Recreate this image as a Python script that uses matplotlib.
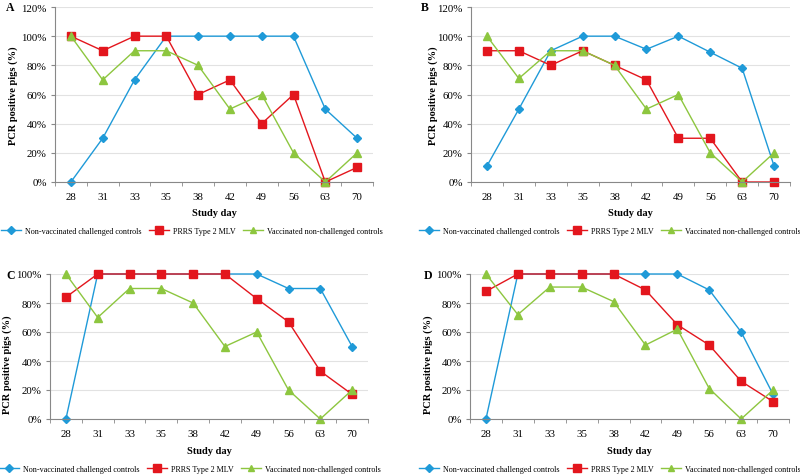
import numpy as np
import matplotlib
matplotlib.use('Agg')
import matplotlib.pyplot as plt
from matplotlib.ticker import PercentFormatter, FixedLocator

plt.rcParams['font.family'] = ['Liberation Serif', 'DejaVu Serif']

days = [28, 31, 33, 35, 38, 42, 49, 56, 63, 70]
names = ['Non-vaccinated challenged controls', 'PRRS Type 2 MLV',
         'Vaccinated non-challenged controls']

# panel A
a_nonvacc = [0, 30, 70, 100, 100, 100, 100, 100, 50, 30]
a_mlv = [100, 90, 100, 100, 60, 70, 40, 60, 0, 10]
a_vacc = [100, 70, 90, 90, 80, 50, 60, 20, 0, 20]

# panel B
b_nonvacc = [11, 50, 90, 100, 100, 91, 100, 89, 78, 11]
b_mlv = [90, 90, 80, 90, 80, 70, 30, 30, 0, 0]
b_vacc = [100, 71, 90, 90, 80, 50, 60, 20, 0, 20]

# panel C
c_nonvacc = [0, 100, 100, 100, 100, 100, 100, 90, 90, 50]
c_mlv = [84, 100, 100, 100, 100, 100, 83, 67, 33, 17]
c_vacc = [100, 70, 90, 90, 80, 50, 60, 20, 0, 20]

# panel D
d_nonvacc = [0, 100, 100, 100, 100, 100, 100, 89, 60, 17]
d_mlv = [88, 100, 100, 100, 100, 89, 65, 51, 26, 12]
d_vacc = [100, 72, 91, 91, 81, 51, 62, 21, 0, 20]

colors = ['#1f9ad8', '#e3161d', '#8dc63f']
markers = ['D', 's', '^']
msizes = [4.2, 6, 5.5]

W, H = 800, 477
fig = plt.figure(figsize=(W / 100, H / 100), dpi=100)


def px(left, right, top, bottom):
    return [left / W, 1 - bottom / H, (right - left) / W, (bottom - top) / H]


panels = [
    ('A', px(55, 373, 8, 183), 120, [a_nonvacc, a_mlv, a_vacc], (6, 8), (192, 232), -0.116),
    ('B', px(471, 790, 8, 183), 120, [b_nonvacc, b_mlv, b_vacc], (421, 8), (610, 232), -0.103),
    ('C', px(50, 368, 275, 420), 100, [c_nonvacc, c_mlv, c_vacc], (6, 276), (190, 470), -0.119),
    ('D', px(470, 789, 275, 420), 100, [d_nonvacc, d_mlv, d_vacc], (424, 276), (610, 470), -0.116),
]

x = np.arange(len(days))
for letter, rect, ymax, series, lpos, legpos, ylx in panels:
    ax = fig.add_axes(rect)
    for vals, c, m, ms, name in zip(series, colors, markers, msizes, names):
        ax.plot(x, vals, color=c, marker=m, markersize=ms, lw=1.0,
                markeredgecolor=c, label=name, clip_on=False)
    ax.set_xlim(-0.5, len(days) - 0.5)
    ax.set_ylim(0, ymax)
    ax.set_yticks(np.arange(0, ymax + 1, 20))
    ax.yaxis.set_major_formatter(PercentFormatter(decimals=0))
    ax.set_xticks(x)
    ax.set_xticklabels([str(d) for d in days])
    ax.xaxis.set_minor_locator(FixedLocator(np.arange(-0.5, len(days), 1.0)))
    ax.tick_params(axis='x', which='major', length=0, labelsize=7.8, pad=7)
    ax.tick_params(axis='x', which='minor', length=3, color='#888888')
    ax.tick_params(axis='y', length=3, color='#888888', labelsize=7.8, pad=3)
    ax.grid(axis='y', color='#e2e2e2', lw=0.8)
    ax.set_axisbelow(True)
    for s in ['top', 'right']:
        ax.spines[s].set_visible(False)
    for s in ['left', 'bottom']:
        ax.spines[s].set_color('#888888')
        ax.spines[s].set_linewidth(0.8)
    ax.set_xlabel('Study day', fontweight='bold', fontsize=7.5)
    ax.set_ylabel('PCR positive pigs (%)', fontweight='bold', fontsize=7.5)
    ax.xaxis.set_label_coords(0.5, -0.15 if ymax == 120 else -0.185)
    ax.yaxis.set_label_coords(ylx, 0.5 if ymax == 120 else 0.38)
    fig.text(lpos[0] / W, 1 - lpos[1] / H, letter, fontweight='bold',
             fontsize=8.5, va='center', ha='left')
    fig.legend(*ax.get_legend_handles_labels(), loc='center',
               bbox_to_anchor=(legpos[0] / W, 1 - legpos[1] / H), ncol=3,
               frameon=False, fontsize=5.9, handlelength=2.4,
               columnspacing=0.9, handletextpad=0.5, borderaxespad=0,
               markerscale=0.9)

fig.savefig('out.png', dpi=100)
